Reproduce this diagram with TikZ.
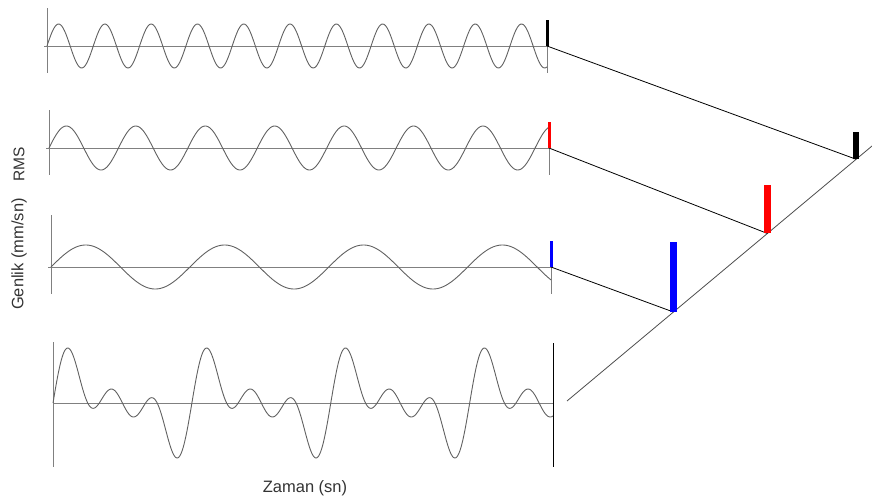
\documentclass[tikz,border=0pt]{standalone}
\usepackage{fontspec}
\setmainfont{Liberation Sans}
\usetikzlibrary{calc}
\tikzset{
  wave/.style    = {draw=black!62, line width=0.9pt},
  axisln/.style  = {draw=black!50, line width=0.8pt},
  link/.style    = {draw=black, line width=0.8pt},
  rmsbar/.style  = {line width=3pt},
  specbar/.style = {line width=6.5pt},
  lbl/.style     = {font=\fontsize{16.5}{18}\selectfont, text=black!80, inner sep=0pt},
}

\begin{document}
\begin{tikzpicture}[x=1pt,y=-1pt]
  \useasboundingbox (0,0) rectangle (872,498);

  % frequency axis
  \coordinate (f0) at (567,401);
  \coordinate (f1) at (872,146);
  \draw[axisln, draw=black!70] (f0) -- (f1);

  % single-frequency panels: left x, baseline, harmonic, top, bottom, colour, place on axis, bar height
  \foreach \i/\xa/\yb/\hm/\ya/\yz/\col/\tp/\hb in
      {1/47/46/3/8/73/black/0.948/27, 2/49/148/2/110/175/red/0.657/48,
       3/51/267/1/215/294/blue/0.349/70}{
    \coordinate (l\i) at (\xa,\yb);
    \coordinate (r\i) at (\xa+500,\yb);
    \coordinate (s\i) at ($(f0)!\tp!(f1)$);
    \draw[axisln] (\xa,\ya) -- (\xa,\yz);
    \draw[axisln] ([xshift=-3pt]l\i) -- (r\i);
    \draw[axisln] (r\i) -- (\xa+500,\yz);
    \draw[wave] plot[domain=0:500, samples=400, smooth]
          ({\xa+\x},{\yb-22*sin(\hm*2.592*\x)});
    \draw[link] (r\i) -- (s\i);
    \draw[rmsbar, \col] (r\i) -- ++(0,-26);
    \draw[specbar, \col] (s\i) -- ++(0,-\hb);
  }

  % composite signal
  \coordinate (l4) at (53,403);
  \coordinate (r4) at (553,403);
  \draw[axisln] (53,342) -- (53,467);
  \draw[axisln] (l4) -- (r4);
  \draw[link] (553,343) -- (553,467);
  \draw[wave] plot[domain=0:500, samples=600, smooth]
        ({53+\x},{403-22*(sin(2.592*\x)+sin(5.184*\x)+sin(7.776*\x))});

  % labels
  \node[lbl, rotate=90, font=\fontsize{15.5}{17}\selectfont] (rms) at (19,164) {RMS};
  \node[lbl, rotate=90] (gen) at (19,254) {Genlik (mm/sn)};
  \node[lbl] (zam) at (305,488) {Zaman (sn)};
\end{tikzpicture}
\end{document}
